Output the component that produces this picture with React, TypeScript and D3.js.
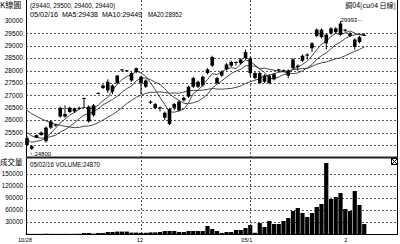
import React from 'react';
import * as d3 from 'd3';

// ---- data ----
const opens = [25280, 24950, 25300, 25400, 25150, 25700, 25800, 26150, 26150, 26330, 26350, 26450, 26880, 26550, 26200, 27080, 27300, 27200, 27150, 27500, 28040, 28000, 27600, 27950, 27750, 27600, 26750, 26650, 26500, 26300, 26450, 26500, 26400, 26800, 26950, 27350, 27550, 27400, 27900, 28200, 27700, 27800, 28050, 28200, 28340, 28300, 28500, 28500, 27900, 27900, 27550, 27800, 27650, 28040, 28020, 27800, 28100, 28150, 28400, 28600, 28900, 29400, 29650, 29450, 29500, 29550, 29900, 29600, 29400, 28950, 29150, 29440];
const highs = [25350, 25000, 25420, 25550, 25750, 26000, 25850, 26550, 26600, 26550, 26500, 26550, 26900, 26600, 26650, 27120, 27450, 27650, 27450, 27820, 28060, 28020, 27950, 28120, 27800, 27650, 26800, 26700, 26550, 26350, 26500, 26700, 26800, 26950, 27400, 27750, 27600, 27800, 28100, 28600, 27750, 28000, 28300, 28400, 28370, 28500, 28850, 28550, 27950, 27950, 27850, 27850, 27900, 28060, 28040, 28050, 28500, 28250, 28650, 28700, 29150, 29700, 29700, 29500, 29750, 29750, 29993, 29680, 29550, 29300, 29400, 29500];
const lows = [24950, 24800, 25280, 25380, 25100, 25650, 25750, 26100, 26100, 26300, 26300, 26420, 26500, 25900, 26150, 27050, 27250, 27100, 27050, 27450, 27950, 27950, 27550, 27900, 27050, 27300, 26650, 26450, 26350, 26000, 25800, 26400, 26350, 26750, 26900, 27300, 27300, 27350, 27850, 28150, 27450, 27750, 28000, 28150, 28200, 28250, 28450, 27750, 27650, 27450, 27500, 27450, 27600, 27950, 27950, 27700, 28050, 28000, 28350, 28450, 28750, 29350, 29300, 28850, 29450, 29500, 29400, 29550, 29350, 28850, 29100, 29400];
const closes = [25000, 24850, 25400, 25500, 25700, 25950, 25820, 26500, 26250, 26500, 26480, 26500, 26900, 25950, 26600, 27100, 27400, 27550, 27400, 27800, 28050, 28010, 27900, 28100, 27500, 27350, 26700, 26500, 26520, 26100, 25850, 26650, 26750, 26900, 27350, 27700, 27350, 27750, 28050, 28550, 27500, 27950, 28250, 28350, 28350, 28450, 28750, 27900, 27700, 27500, 27800, 27500, 27850, 28050, 28000, 28000, 28450, 28200, 28600, 28650, 29100, 29650, 29350, 29100, 29700, 29700, 29450, 29650, 29500, 29250, 29350, 29440];
const volumes = [500, 300, 400, 300, 600, 500, 300, 400, 500, 300, 400, 600, 2500, 2500, 1000, 2500, 2500, 5000, 5000, 6000, 6000, 6000, 3500, 3500, 3000, 3000, 4000, 4000, 5000, 7500, 7500, 7500, 5000, 5000, 7500, 7500, 7500, 7500, 20000, 12500, 7500, 2500, 5000, 5000, 10000, 10000, 15000, 22500, 3000, 27500, 17500, 32500, 25000, 25000, 32500, 40000, 57500, 65000, 52500, 42500, 52500, 67500, 75000, 177500, 87500, 92500, 102500, 62500, 57500, 107500, 72500, 24870];
// closes before the first drawn day (only used to seed the moving averages)
const priorCloses = [27600, 27500, 27400, 27500, 27300, 27200, 27300, 27100, 27100, 27000, 26200, 26000, 25800, 25600, 25400, 25300, 25200, 25300, 25200];
const maPeriods = [5, 10, 20];
const priceTicks = [25000, 25500, 26000, 26500, 27000, 27500, 28000, 28500, 29000, 29500, 30000];
const volumeTicks = [30000, 60000, 90000, 120000, 150000];
const xLabelIndex = [0, 24, 47, 67];
const xLabelText = ['10/28', '12', '05/1', '2'];
const monthGridIndex = [24, 47];
const titleText = 'K線圖';
const ohlcText = '(29440, 29500, 29400, 29440)';
const infoDate = '05/02/16';
const maTexts = ['MA5:29438', 'MA10:29449', 'MA20:28952'];
const symbolText = '銅04[cu04 日線]';
const volTitle = '成交量';
const volInfo = '05/02/16 VOLUME:24870';
const highLabel = '29993←';
const lowLabel = '↑:24800';
const highIndex = 66;
const lowIndex = 1;

export default function App() {
  const n = closes.length;
  const x = d3.scaleLinear().domain([0, n - 1]).range([27, 364.25]);
  const y = d3.scaleLinear().domain([25000, 30000]).range([145, 21]);
  const yv = d3.scaleLinear().domain([0, 150000]).range([234, 174]);

  const all = [...priorCloses, ...closes];
  const off = priorCloses.length;
  const maSeries = maPeriods.map((p) =>
    closes.map((_, i) => d3.mean(all.slice(i + off - p + 1, i + off + 1)) as number)
  );
  const line = d3
    .line<number>()
    .x((_, i) => x(i))
    .y((d) => y(d));

  const L = 26;
  const R = 398;
  const SEP = 157.5;
  const BOT = 234;
  const gridColor = '#555';
  const font = '"Liberation Sans", Arial, sans-serif';
  const cjk = '"Noto Sans CJK TC", "Noto Sans CJK SC", sans-serif';

  return (
    <div style={{ position: 'absolute', left: 0, top: 0 }}>
      <svg width={400} height={244} style={{ display: 'block', background: '#fff' }}>
        {/* horizontal price grid */}
        {priceTicks
          .filter((t) => t < 30000)
          .map((t) => (
            <line key={'pg' + t} x1={L} x2={R} y1={Math.round(y(t)) + 0.5} y2={Math.round(y(t)) + 0.5}
              stroke={gridColor} strokeWidth={1} strokeDasharray="2,2" />
          ))}
        {/* volume grid */}
        {volumeTicks.map((t) => (
          <line key={'vg' + t} x1={L} x2={R} y1={Math.round(yv(t)) + 0.5} y2={Math.round(yv(t)) + 0.5}
            stroke={gridColor} strokeWidth={1} strokeDasharray="2,2" />
        ))}
        {/* vertical month grid */}
        {monthGridIndex.map((i) => (
          <line key={'mg' + i} x1={Math.round(x(i)) + 0.5} x2={Math.round(x(i)) + 0.5} y1={0} y2={BOT}
            stroke={gridColor} strokeWidth={1} strokeDasharray="2,2" />
        ))}

        {/* moving averages */}
        {maSeries.map((s, k) => (
          <path key={'ma' + k} d={line(s) || ''} fill="none" stroke="#333" strokeWidth={0.9} />
        ))}

        {/* candles */}
        {closes.map((c, i) => {
          const o = opens[i];
          const top = y(Math.max(o, c));
          const bot = y(Math.min(o, c));
          const cx = x(i);
          return (
            <g key={'c' + i}>
              <line x1={cx} x2={cx} y1={y(highs[i])} y2={y(lows[i])} stroke="#000" strokeWidth={1} />
              <rect x={cx - 1.8} y={top} width={3.6} height={Math.max(1, bot - top)} fill="#000" />
            </g>
          );
        })}

        {/* volume bars */}
        {volumes.map((v, i) => (
          <rect key={'v' + i} x={x(i) - 2.1} y={yv(v)} width={4.2} height={BOT - yv(v)} fill="#000" />
        ))}

        {/* frame */}
        <line x1={L + 0.5} x2={L + 0.5} y1={0} y2={BOT} stroke="#000" strokeWidth={1} />
        <line x1={R - 0.5} x2={R - 0.5} y1={0} y2={BOT} stroke="#000" strokeWidth={1} />
        <line x1={L} x2={R} y1={SEP} y2={SEP} stroke="#222" strokeWidth={2} />
        <line x1={L} x2={R} y1={BOT + 0.5} y2={BOT + 0.5} stroke="#000" strokeWidth={1} />

        {/* close box */}
        <rect x={391.5} y={158.5} width={6} height={6} fill="#fff" stroke="#000" strokeWidth={1} />
        <line x1={392} y1={159} x2={397} y2={164} stroke="#000" strokeWidth={1} />
        <line x1={397} y1={159} x2={392} y2={164} stroke="#000" strokeWidth={1} />

        {/* price axis labels */}
        {priceTicks.map((t) => (
          <text key={'pl' + t} x={23} y={y(t) + 2.2} textAnchor="end" fontSize={6.6} fontFamily={font} fill="#000">
            {t}
          </text>
        ))}
        {/* volume axis labels */}
        {volumeTicks.map((t) => (
          <text key={'vl' + t} x={23} y={yv(t) + 2.2} textAnchor="end" fontSize={6.4} fontFamily={font} fill="#000">
            {t}
          </text>
        ))}
        {/* x labels */}
        {xLabelIndex.map((i, k) => (
          <text key={'xl' + i} x={k === 0 ? x(i) - 2 : x(i) + 2} y={241.5}
            textAnchor={k === 0 ? 'middle' : 'end'} fontSize={5.6} fontFamily={font} fill="#000">
            {xLabelText[k]}
          </text>
        ))}

        {/* headers */}
        <text x={0} y={8} fontSize={8} fontFamily={cjk} fill="#000">{titleText}</text>
        <text x={30} y={8} fontSize={6.3} fontFamily={font} fill="#000" textLength={85} lengthAdjust="spacingAndGlyphs">{ohlcText}</text>
        <text x={30} y={16.5} fontSize={6.3} fontFamily={font} fill="#000" textLength={28} lengthAdjust="spacingAndGlyphs">{infoDate}</text>
        <text x={62} y={16.5} fontSize={6.3} fontFamily={font} fill="#000" textLength={36} lengthAdjust="spacingAndGlyphs">{maTexts[0]}</text>
        <text x={102} y={16.5} fontSize={6.3} fontFamily={font} fill="#000" textLength={40} lengthAdjust="spacingAndGlyphs">{maTexts[1]}</text>
        <text x={148} y={16.5} fontSize={6.3} fontFamily={font} fill="#000" textLength={34} lengthAdjust="spacingAndGlyphs">{maTexts[2]}</text>
        <text x={396} y={8} textAnchor="end" fontSize={7} fontFamily={cjk} fill="#000">{symbolText}</text>

        {/* high / low markers */}
        <text x={x(highIndex)} y={22} fontSize={6} fontFamily={font} fill="#000">{highLabel}</text>
        <text x={x(lowIndex) - 2} y={155.5} fontSize={6} fontFamily={font} fill="#000">{lowLabel}</text>

        {/* volume headers */}
        <text x={0} y={165} fontSize={7.5} fontFamily={cjk} fill="#000">{volTitle}</text>
        <text x={30} y={167} fontSize={6.3} fontFamily={font} fill="#000" textLength={70} lengthAdjust="spacingAndGlyphs">{volInfo}</text>
      </svg>
    </div>
  );
}
